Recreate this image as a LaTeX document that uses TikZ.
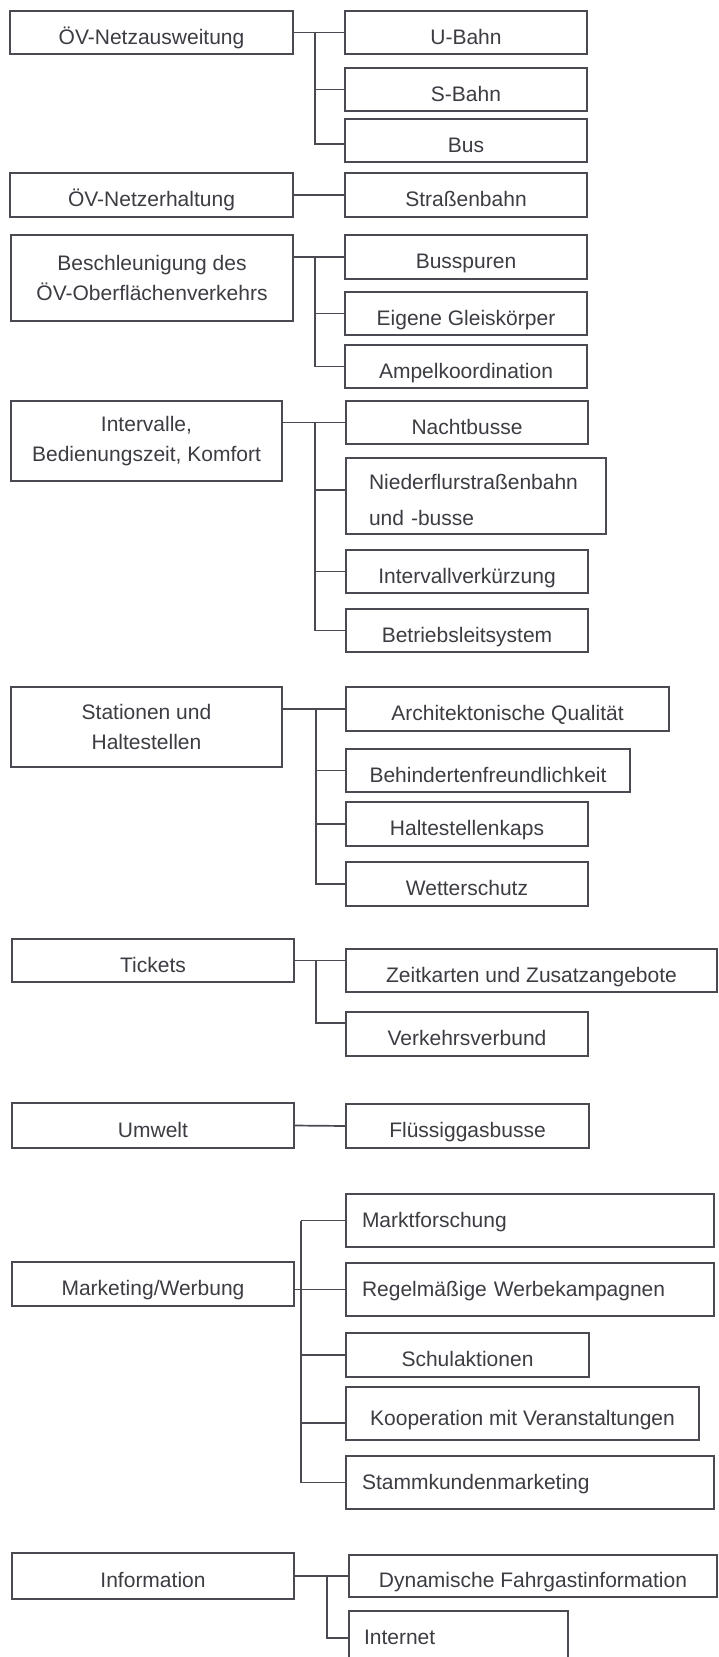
\documentclass[tikz,border=0pt]{standalone}
\usepackage{fontspec}
\setmainfont{Liberation Sans}
\definecolor{ln}{HTML}{4A4A52}
\definecolor{txt}{HTML}{3C3C43}
\newcommand\mkbox[7]{\node[#6, minimum width={(#3)-(#2)}, minimum height={(#5)-(#4)}] (#1) at ({(#2+#3)/2},{(#4+#5)/2}) {#7};}
\begin{document}
\begin{tikzpicture}[x=1pt,y=-1pt,
  every node/.style={font=\fontsize{21}{30}\selectfont, text=txt},
  box/.style={draw=ln, line width=1.7pt, inner sep=0pt, outer sep=0pt, align=center},
  one/.style={box, text height=23pt, text depth=0pt},
  lft/.style={box, align=left, text height=13pt, text depth=0pt},
  conn/.style={draw=ln, line width=1.7pt}]
\useasboundingbox (0,0) rectangle (719,1657);
\clip (0,0) rectangle (719,1657);
\fill[white] (0,0) rectangle (719,1657);

% parents
\mkbox{P1}{10}{293}{11}{54}{one}{ÖV-Netzausweitung}
\mkbox{P2}{10}{293}{173}{217}{one}{ÖV-Netzerhaltung}
\mkbox{P3}{11}{293}{235}{321}{box}{Beschleunigung des\\ÖV-Oberflächenverkehrs}
\mkbox{P4}{11}{282}{401}{481}{box}{Intervalle,\\Bedienungszeit, Komfort}
\mkbox{P5}{11}{282}{687}{767}{box}{Stationen und\\Haltestellen}
\mkbox{P6}{12}{294}{939}{982}{one}{Tickets}
\mkbox{P7}{12}{294}{1103}{1148}{one}{Umwelt}
\mkbox{P8}{12}{294}{1262}{1306}{one}{Marketing/Werbung}
\mkbox{P9}{12}{294}{1553}{1599}{one}{Information}

% children
\mkbox{UB}{345}{587}{11}{54}{one}{U-Bahn}
\mkbox{SB}{345}{587}{68}{111}{one}{S-Bahn}
\mkbox{BU}{345}{587}{119}{162}{one}{Bus}
\mkbox{ST}{345}{587}{173}{217}{one}{Straßenbahn}
\mkbox{BS}{345}{587}{235}{279}{one}{Busspuren}
\mkbox{EG}{345}{587}{292}{335}{one}{Eigene Gleiskörper}
\mkbox{AK}{345}{587}{345}{388}{one}{Ampelkoordination}
\mkbox{NB}{346}{588}{401}{444}{one}{Nachtbusse}
\mkbox{NF}{346}{606}{458}{534}{box, align=left, text width=214pt, text height=24pt}{Niederflurstraßenbahn\\[6pt]und -busse}
\mkbox{IV}{346}{588}{550}{593}{one}{Intervallverkürzung}
\mkbox{BL}{346}{588}{609}{652}{one}{Betriebsleitsystem}
\mkbox{AQ}{346}{669}{687}{731}{one}{Architektonische Qualität}
\mkbox{BF}{346}{630}{749}{792}{one}{Behindertenfreundlichkeit}
\mkbox{HK}{346}{588}{802}{846}{one}{Haltestellenkaps}
\mkbox{WS}{346}{588}{862}{906}{one}{Wetterschutz}
\mkbox{ZK}{346}{717}{949}{992}{one}{Zeitkarten und Zusatzangebote}
\mkbox{VV}{346}{588}{1012}{1056}{one}{Verkehrsverbund}
\mkbox{FG}{346}{589}{1104}{1148}{one}{Flüssiggasbusse}
\mkbox{MF}{346}{714}{1194}{1247}{lft, text width=336pt}{Marktforschung}
\mkbox{RW}{346}{714}{1263}{1316}{lft, text width=336pt}{Regelmäßige Werbekampagnen}
\mkbox{SA}{346}{589}{1333}{1377}{one}{Schulaktionen}
\mkbox{KO}{346}{699}{1387}{1440}{one}{Kooperation mit Veranstaltungen}
\mkbox{SK}{346}{714}{1456}{1509}{lft, text width=336pt}{Stammkundenmarketing}
\mkbox{DF}{349}{717}{1555}{1597}{one}{Dynamische Fahrgastinformation}
\mkbox{IN}{349}{568}{1611}{1665}{lft, text width=189pt}{Internet}

% trunk coordinates
\coordinate (t1) at (315,0);
\coordinate (t3) at (315,0);
\coordinate (t4) at (315,0);
\coordinate (t5) at (316,0);
\coordinate (t6) at (316,0);
\coordinate (t8) at (301,0);
\coordinate (t9) at (327,0);

% group 1
\draw[conn] (P1.east) -- (UB.west);
\draw[conn] (t1 |- UB.west) |- ([yshift=-3.5pt]BU.west);
\draw[conn] (t1 |- SB.west) -- (SB.west);
% group 2
\draw[conn] (P2.east) -- (ST.west);
% group 3
\draw[conn] (P3.east |- BS.west) -- (BS.west);
\draw[conn] (t3 |- BS.west) |- (AK.west);
\draw[conn] (t3 |- EG.west) -- (EG.west);
% group 4
\draw[conn] (P4.east |- NB.west) -- (NB.west);
\draw[conn] (t4 |- NB.west) |- (BL.west);
\draw[conn] (t4 |- NF.west) ++(0,-6) -- ([yshift=6pt]NF.west);
\draw[conn] (t4 |- IV.west) -- (IV.west);
% group 5
\draw[conn] (P5.east |- AQ.west) -- (AQ.west);
\draw[conn] (t5 |- AQ.west) |- (WS.west);
\draw[conn] (t5 |- BF.west) -- (BF.west);
\draw[conn] (t5 |- HK.west) -- (HK.west);
% group 6
\draw[conn] (P6.east) -- (P6.east -| ZK.west);
\draw[conn] (t6 |- P6.east) |- ([yshift=11pt]VV.west);
% group 7
\draw[conn] (P7.east) -- (FG.west);
% group 8
\draw[conn] (P8.east |- RW.west) -- (RW.west);
\draw[conn] (t8 |- MF.west) |- (SK.west);
\draw[conn] (t8 |- MF.west) -- (MF.west);
\draw[conn] (t8 |- SA.west) -- (SA.west);
\draw[conn] (t8 |- KO.west) ++(0,9.5) -- ([yshift=-9.5pt]KO.west);
% group 9
\draw[conn] (P9.east |- DF.west) -- (DF.west);
\draw[conn] (t9 |- DF.west) |- (IN.west);
\end{tikzpicture}
\end{document}
